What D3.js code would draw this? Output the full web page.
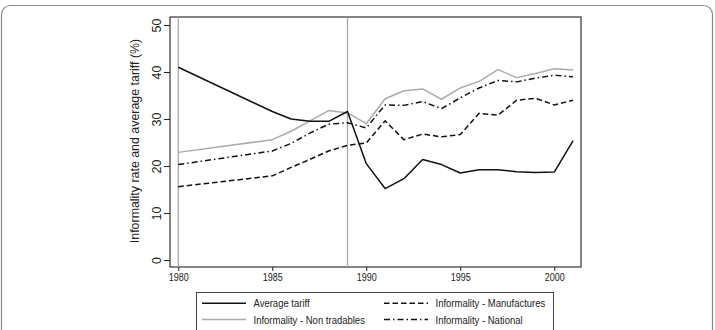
<!DOCTYPE html>
<html>
<head>
<meta charset="utf-8">
<script src="https://cdn.jsdelivr.net/npm/d3@7"></script>
<style>
  body { margin: 0; background: #fff; }
  svg { display: block; }
</style>
</head>
<body>
<svg id="chart" width="715" height="330"></svg>
<script>
// years and series
const years = [1980, 1985, 1986, 1987, 1988, 1989, 1990, 1991, 1992, 1993, 1994, 1995, 1996, 1997, 1998, 1999, 2000, 2001];
const tariff = [41.0, 31.6, 30.0, 29.5, 29.5, 31.6, 20.5, 15.2, 17.3, 21.4, 20.3, 18.5, 19.2, 19.2, 18.8, 18.6, 18.7, 25.4];
const nonTradables = [22.9, 25.6, 27.4, 29.6, 31.8, 31.3, 29.0, 34.3, 36.0, 36.4, 34.2, 36.6, 38.0, 40.5, 38.8, 39.7, 40.7, 40.4];
const manufactures = [15.6, 17.9, 19.7, 21.4, 23.2, 24.4, 24.9, 29.6, 25.6, 26.8, 26.2, 26.7, 31.2, 30.8, 34.0, 34.4, 33.0, 34.0];
const national = [20.3, 23.2, 24.8, 27.0, 28.9, 29.2, 28.1, 33.0, 32.9, 33.7, 32.2, 34.5, 36.6, 38.2, 37.9, 38.7, 39.3, 39.0];
const xTicks = [1980, 1985, 1990, 1995, 2000];
const yTicks = [0, 10, 20, 30, 40, 50];
const refYears = [1980, 1989];

const svg = d3.select("#chart");
const font = "'Liberation Sans', Arial, sans-serif";
const narrow = "scale(0.82,1)"; // stata export uses a condensed face

// outer rounded frame
svg.append("rect")
    .attr("x", 1.5).attr("y", 5.5)
    .attr("width", 711).attr("height", 360)
    .attr("rx", 9)
    .attr("fill", "none")
    .attr("stroke", "#8a8a8a")
    .attr("stroke-width", 1.2);

// plot region
const frame = { left: 170, right: 581, top: 17, bottom: 267 };

const x = d3.scaleLinear().domain([1980, 2000]).range([178.3, 554.3]);
const y = d3.scaleLinear().domain([0, 50]).range([260, 25]);

svg.append("rect")
    .attr("x", frame.left).attr("y", frame.top)
    .attr("width", frame.right - frame.left)
    .attr("height", frame.bottom - frame.top)
    .attr("fill", "none")
    .attr("stroke", "#222")
    .attr("stroke-width", 1.1);

// reference lines
svg.selectAll(".ref")
    .data(refYears)
    .enter()
    .append("line")
    .attr("class", "ref")
    .attr("x1", d => x(d)).attr("x2", d => x(d))
    .attr("y1", frame.top).attr("y2", frame.bottom)
    .attr("stroke", "#a8a8a8")
    .attr("stroke-width", 1.3);

// x axis
const gX = svg.append("g")
    .attr("transform", "translate(0," + frame.bottom + ")")
    .call(d3.axisBottom(x).tickValues(xTicks).tickFormat(d3.format("d")).tickSize(4).tickSizeOuter(0));
gX.select(".domain").remove();
gX.selectAll(".tick line").attr("stroke", "#222");
gX.selectAll(".tick text")
    .attr("font-family", font)
    .attr("font-size", 11)
    .attr("fill", "#222")
    .attr("y", 5).attr("dy", "0.8em")
    .attr("transform", narrow);

// y axis
const gY = svg.append("g")
    .attr("transform", "translate(" + frame.left + ",0)")
    .call(d3.axisLeft(y).tickValues(yTicks).tickSize(6).tickSizeOuter(0));
gY.select(".domain").remove();
gY.selectAll(".tick line").attr("stroke", "#222");
gY.selectAll(".tick text")
    .attr("font-family", font)
    .attr("font-size", 12.5)
    .attr("fill", "#222")
    .attr("x", 0).attr("dy", 0)
    .attr("text-anchor", "middle")
    .attr("transform", "translate(-9,0) rotate(-90)");

svg.append("text")
    .attr("transform", "translate(139,141) rotate(-90)")
    .attr("text-anchor", "middle")
    .attr("font-family", font)
    .attr("font-size", 12.4)
    .attr("fill", "#222")
    .text("Informality rate and average tariff (%)");

// series
const series = [
    { name: "Average tariff", values: tariff, color: "#111", dash: null, width: 1.5 },
    { name: "Informality - Manufactures", values: manufactures, color: "#111", dash: "5.5,3", width: 1.5 },
    { name: "Informality - Non tradables", values: nonTradables, color: "#ababab", dash: null, width: 1.5 },
    { name: "Informality - National", values: national, color: "#111", dash: "6,3,1.5,3", width: 1.5 }
];

const line = d3.line()
    .x((d, i) => x(years[i]))
    .y(d => y(d));

svg.selectAll(".series")
    .data([series[2], series[3], series[1], series[0]])
    .enter()
    .append("path")
    .attr("class", "series")
    .attr("d", d => line(d.values))
    .attr("fill", "none")
    .attr("stroke", d => d.color)
    .attr("stroke-width", d => d.width)
    .attr("stroke-dasharray", d => d.dash)
    .attr("stroke-linejoin", "round");

// legend
const legend = svg.append("g");
legend.append("rect")
    .attr("x", 196.5).attr("y", 292.5)
    .attr("width", 357).attr("height", 60)
    .attr("fill", "#fff")
    .attr("stroke", "#444")
    .attr("stroke-width", 1);

const legendPos = [
    { col: 0, row: 0 }, { col: 1, row: 0 }, { col: 0, row: 1 }, { col: 1, row: 1 }
];
const legendItems = legend.selectAll(".item")
    .data(series)
    .enter()
    .append("g")
    .attr("class", "item")
    .attr("transform", (d, i) => "translate(" + (legendPos[i].col ? 384 : 202) + "," + (legendPos[i].row ? 319.5 : 303.3) + ")");

legendItems.append("line")
    .attr("x1", 0).attr("x2", 44)
    .attr("stroke", d => d.color)
    .attr("stroke-width", d => d.width)
    .attr("stroke-dasharray", d => d.dash);

legendItems.append("text")
    .attr("transform", "translate(51.5,0) " + narrow)
    .attr("dy", "0.35em")
    .attr("font-family", font)
    .attr("font-size", 11.6)
    .attr("fill", "#222")
    .text(d => d.name);
</script>
</body>
</html>
